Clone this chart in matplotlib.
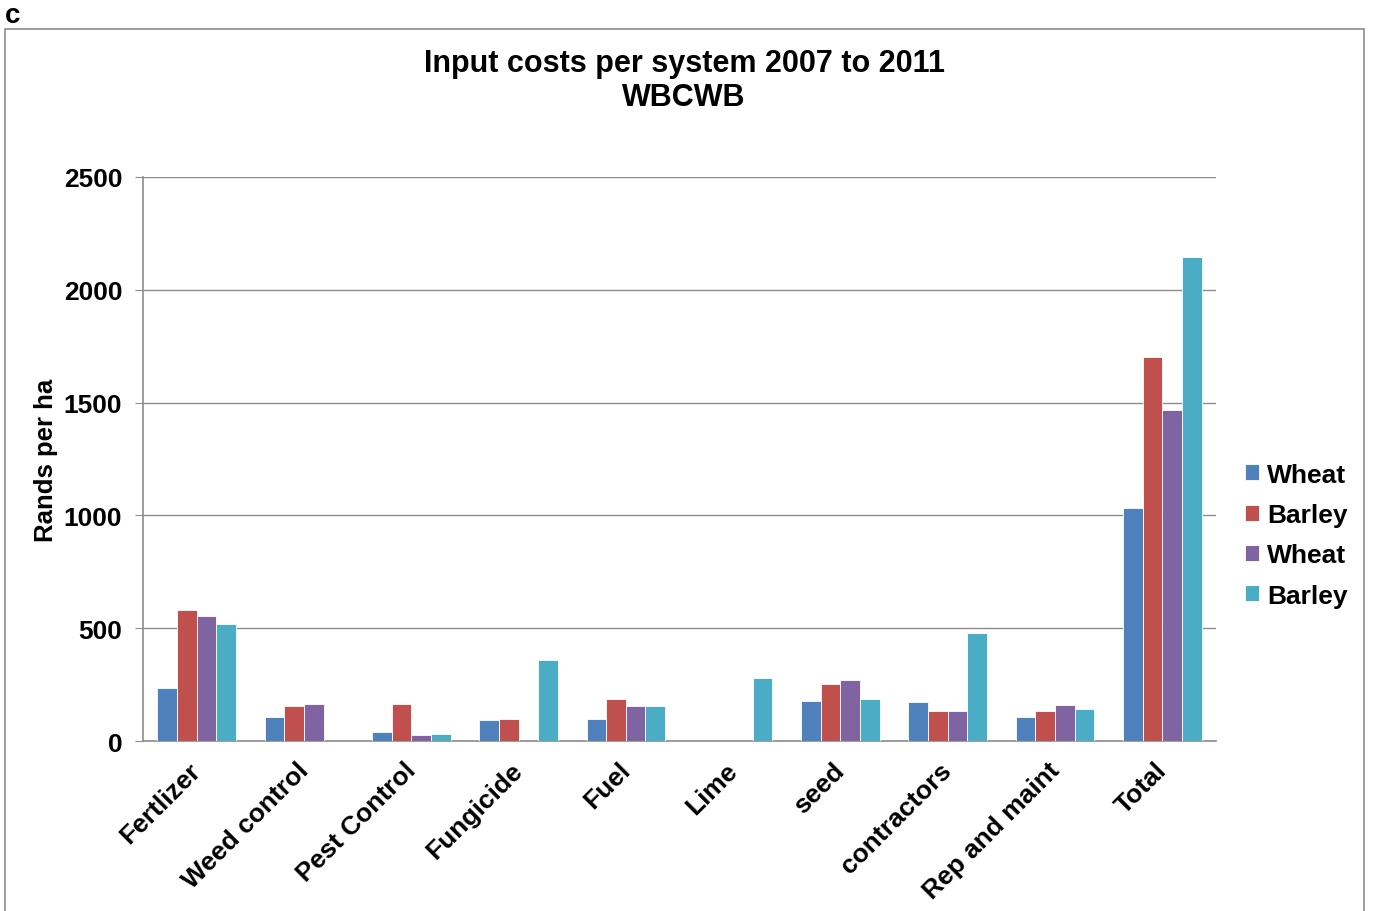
import numpy as np
import matplotlib.pyplot as plt
import matplotlib.transforms as mtransforms
from matplotlib.patches import Rectangle

plt.rcParams['font.family'] = ['Liberation Sans', 'DejaVu Sans']
plt.rcParams['font.weight'] = 'bold'

categories = ["Fertlizer", "Weed control", "Pest Control", "Fungicide", "Fuel",
              "Lime", "seed", "contractors", "Rep and maint", "Total"]
series_names = ["Wheat", "Barley", "Wheat", "Barley"]
wheat_1 = [236, 105, 41, 92, 98, 0, 178, 174, 105, 1033]
barley_1 = [579, 157, 162, 98, 187, 0, 252, 135, 132, 1702]
wheat_2 = [553, 165, 28, 0, 156, 0, 271, 135, 158, 1466]
barley_2 = [518, 0, 30, 359, 157, 279, 188, 479, 140, 2145]
colors = ["#4F81BD", "#C0504D", "#8064A2", "#4BACC6"]
yticks = [0, 500, 1000, 1500, 2000, 2500]

fig = plt.figure(figsize=(13.73, 9.12), dpi=100)
ax = fig.add_axes([143 / 1373, 1 - 742 / 912, (1216 - 143) / 1373, (742 - 178) / 912])

# outer frame and panel letter
fig.patches.append(Rectangle((5 / 1373, -0.05), (1364 - 5) / 1373, 1.05 - 30 / 912,
                             transform=fig.transFigure, fill=False,
                             edgecolor="#8c8c8c", linewidth=1.2))
fig.text(5 / 1373, 1 - 16 / 912, "c", fontsize=20, fontweight="bold", va="center")

x = np.arange(len(categories))
w = 0.183
data = [wheat_1, barley_1, wheat_2, barley_2]
for i, vals in enumerate(data):
    ax.bar(x + (i - 1.5) * w, vals, w, color=colors[i], edgecolor="white",
           linewidth=0.6, label=series_names[i], zorder=3)

ax.set_xlim(-0.5, len(categories) - 0.5)
ax.set_ylim(0, 2500)
ax.set_yticks(yticks)
ax.set_yticklabels([str(t) for t in yticks], fontsize=19, fontweight="bold")
ax.yaxis.grid(True, color="#8c8c8c", linewidth=1.0, zorder=0)
ax.tick_params(axis="y", length=6, color="#8c8c8c", pad=9)
ax.tick_params(axis="x", length=0, pad=12)
ax.set_xticks(x)
ax.set_xticklabels(categories, rotation=45, ha="right", rotation_mode="anchor",
                   fontsize=19, fontweight="bold")
# nudge the slanted category labels a little to the left
shift = mtransforms.ScaledTranslation(-8 / 100, 0, fig.dpi_scale_trans)
for lbl in ax.get_xticklabels():
    lbl.set_transform(lbl.get_transform() + shift)
for s in ["top", "right"]:
    ax.spines[s].set_visible(False)
for s in ["left", "bottom"]:
    ax.spines[s].set_color("#8c8c8c")
    ax.spines[s].set_linewidth(1.2)

ax.set_ylabel("Rands per ha", fontsize=18.5, fontweight="bold", labelpad=4)
fig.text(684 / 1373, 1 - 81 / 912, "Input costs per system 2007 to 2011\nWBCWB",
         ha="center", va="center", fontsize=22, fontweight="bold", linespacing=1.2)

ax.legend(loc="center left", bbox_to_anchor=(1.027, 0.365), frameon=False,
          prop={"size": 19, "weight": "bold"}, handlelength=0.55, handleheight=0.55,
          handletextpad=0.3, labelspacing=0.62, borderpad=0, borderaxespad=0)

fig.savefig("out.png", dpi=100)
